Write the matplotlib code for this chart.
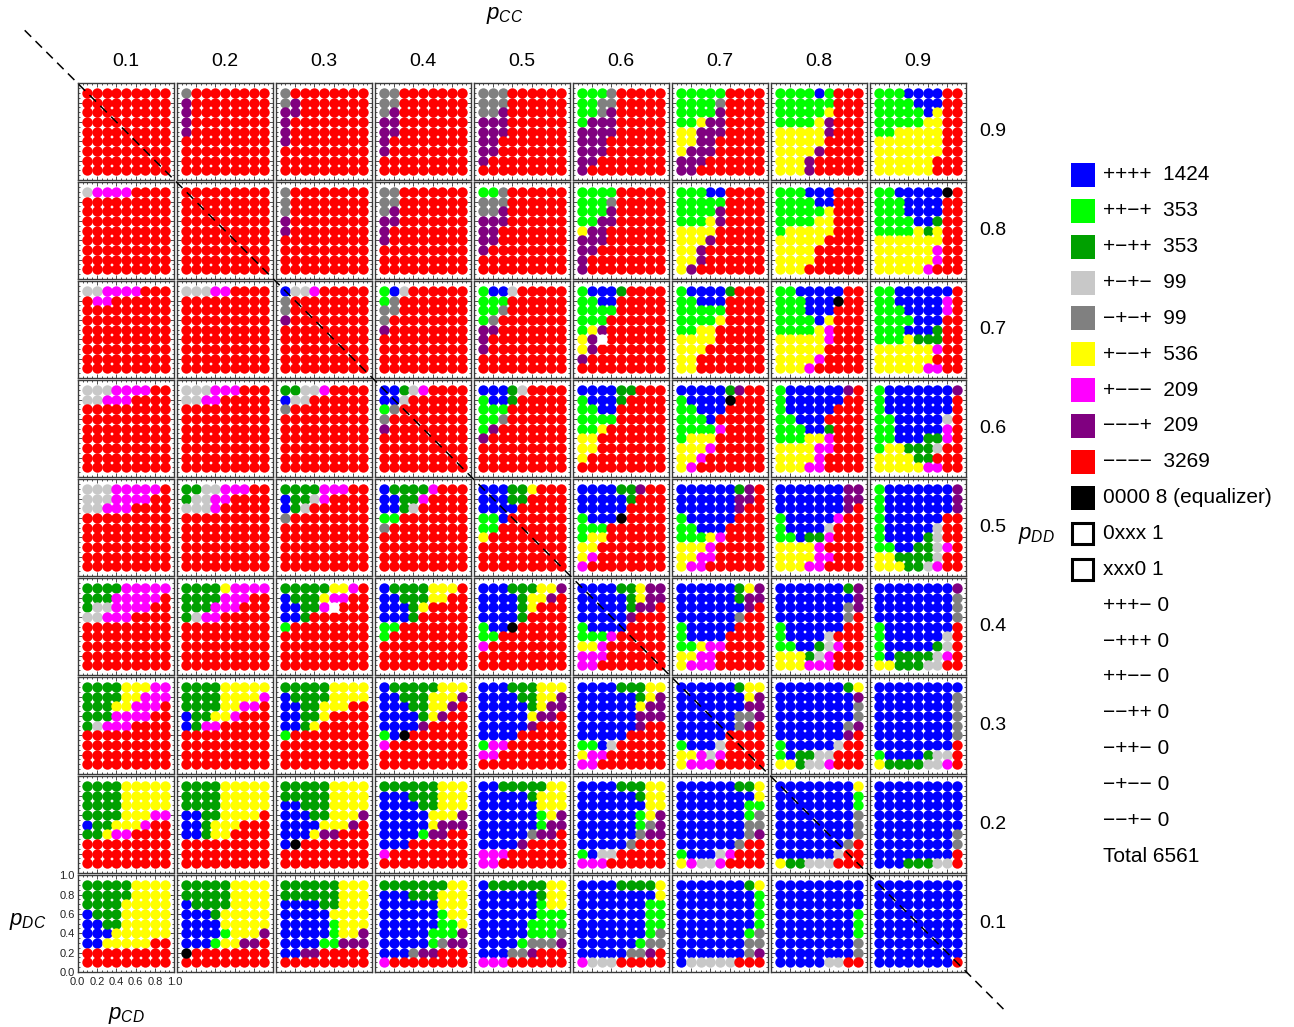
import matplotlib
matplotlib.use("Agg")
import matplotlib.pyplot as plt
from matplotlib.lines import Line2D
from matplotlib.patches import Rectangle
from matplotlib.ticker import MultipleLocator

plt.rcParams['font.family'] = ['Liberation Sans', 'DejaVu Sans']
plt.rcParams['mathtext.fontset'] = 'custom'
plt.rcParams['mathtext.it'] = 'Liberation Sans:italic'
plt.rcParams['mathtext.rm'] = 'Liberation Sans'

# grid values of p (same for p_CD / p_DC inside a panel and p_CC / p_DD between panels)
p_values = [0.1, 0.2, 0.3, 0.4, 0.5, 0.6, 0.7, 0.8, 0.9]
p_labels = ['0.1', '0.2', '0.3', '0.4', '0.5', '0.6', '0.7', '0.8', '0.9']

# sign pattern of each strategy, one panel per p_DD (0.9 at top -> 0.1 at bottom);
# each panel = 9 rows (p_DC 0.9 -> 0.1) of 9 chars (p_CD 0.1 -> 0.9)
# B ++++  L ++-+  G +-++  S +-+-  D -+-+  Y +--+  M +---  P ---+  R ----  K 0000  W 0xxx/xxx0
col_01 = [
    "RRRRRRRRR RRRRRRRRR RRRRRRRRR RRRRRRRRR RRRRRRRRR RRRRRRRRR RRRRRRRRR RRRRRRRRR RRRRRRRRR",
    "SMMMMRRRR RRRRRRRRR RRRRRRRRR RRRRRRRRR RRRRRRRRR RRRRRRRRR RRRRRRRRR RRRRRRRRR RRRRRRRRR",
    "SSMMMMRRR RMMRRRRRR RRRRRRRRR RRRRRRRRR RRRRRRRRR RRRRRRRRR RRRRRRRRR RRRRRRRRR RRRRRRRRR",
    "SSSMMMMRR SSMMMRRRR RRRRRRRRR RRRRRRRRR RRRRRRRRR RRRRRRRRR RRRRRRRRR RRRRRRRRR RRRRRRRRR",
    "SSSMMMMMR SSSMMMMRR SSMMMRRRR RRRRRRRRR RRRRRRRRR RRRRRRRRR RRRRRRRRR RRRRRRRRR RRRRRRRRR",
    "GGGGMMMMM GGGMMMMMR GSSMMMMRR SSMMMRRRR RRRRRRRRR RRRRRRRRR RRRRRRRRR RRRRRRRRR RRRRRRRRR",
    "GGGGYYYMM GGGGYYMMM GGGYYMMMR GGGMMMMRR GSMMMRRRR RRRRRRRRR RRRRRRRRR RRRRRRRRR RRRRRRRRR",
    "GGGGYYYYY GGGGYYYYY GGGGYYYYY GGGGYYYMM BGGYYYMRR GGYMMRRRR RRRRRRRRR RRRRRRRRR RRRRRRRRR",
    "GGGGGYYYY GGGGGYYYY GGGGYYYYY BGGGYYYYY BBGGYYYYY BBBYYYYYY BBYYYYYRR RRRRRRRRR RRRRRRRRR",
]
col_02 = [
    "DRRRRRRRR PRRRRRRRR PRRRRRRRR PRRRRRRRR PRRRRRRRR RRRRRRRRR RRRRRRRRR RRRRRRRRR RRRRRRRRR",
    "RRRRRRRRR RRRRRRRRR RRRRRRRRR RRRRRRRRR RRRRRRRRR RRRRRRRRR RRRRRRRRR RRRRRRRRR RRRRRRRRR",
    "SSSMMRRRR RRRRRRRRR RRRRRRRRR RRRRRRRRR RRRRRRRRR RRRRRRRRR RRRRRRRRR RRRRRRRRR RRRRRRRRR",
    "SSSMMMRRR SSMMRRRRR RRRRRRRRR RRRRRRRRR RRRRRRRRR RRRRRRRRR RRRRRRRRR RRRRRRRRR RRRRRRRRR",
    "GGSSMMMRR GSSMMRRRR SSSMRRRRR RRRRRRRRR RRRRRRRRR RRRRRRRRR RRRRRRRRR RRRRRRRRR RRRRRRRRR",
    "GGGGYMMMM GGGGMMMRR GGGMMMRRR GSMMRRRRR RRRRRRRRR RRRRRRRRR RRRRRRRRR RRRRRRRRR RRRRRRRRR",
    "GGGGYYYYY GGGGYYYYM GGGGYYMMR BGGYYMRRR BGMMRRRRR RRRRRRRRR RRRRRRRRR RRRRRRRRR RRRRRRRRR",
    "GGGGYYYYY GGGGYYYYY GGGGYYYYY BBGGYYYYR BBGYYYRRR BBGYYRRRR RRRRRRRRR RRRRRRRRR RRRRRRRRR",
    "GGGGGYYYY GGGGGYYYY BGGGGYYYY BBBGYYYYY BBBBYYYYY BBBBLYYYP BBBLYYPPR KRRRRRRRR RRRRRRRRR",
]
col_03 = [
    "DRRRRRRRR DPRRRRRRR PPRRRRRRR PRRRRRRRR PRRRRRRRR PRRRRRRRR RRRRRRRRR RRRRRRRRR RRRRRRRRR",
    "DRRRRRRRR DRRRRRRRR DRRRRRRRR PRRRRRRRR PRRRRRRRR RRRRRRRRR RRRRRRRRR RRRRRRRRR RRRRRRRRR",
    "BSSMRRRRR DRRRRRRRR DRRRRRRRR PRRRRRRRR RRRRRRRRR RRRRRRRRR RRRRRRRRR RRRRRRRRR RRRRRRRRR",
    "GGSSMRRRR BSSRRRRRR DRRRRRRRR RRRRRRRRR RRRRRRRRR RRRRRRRRR RRRRRRRRR RRRRRRRRR RRRRRRRRR",
    "GGGGMMMRR BGGSMRRRR BGSRRRRRR DRRRRRRRR RRRRRRRRR RRRRRRRRR RRRRRRRRR RRRRRRRRR RRRRRRRRR",
    "GGGGGYYMR BGGGYMMRR BBGGMWRRR BBGRRRRRR LRRRRRRRR RRRRRRRRR RRRRRRRRR RRRRRRRRR RRRRRRRRR",
    "GGGGGYYYY BGGGGYYYY BBGGYYYRR BBGGYRRRR BBGYRRRRR LRRRRRRRR RRRRRRRRR RRRRRRRRR RRRRRRRRR",
    "GGGGGYYYY GGGGGYYYY BBGGGYYYY BBBGGYYYP BBBBYYYPR BBBYPPRRR BKRRRRRRR RRRRRRRRR RRRRRRRRR",
    "GGGGGGYYY GGGGGGYYY BBBBGGYYY BBBBBYYYY BBBBBLYYY BBBBBLYYP BBBBLLPPP BBPPRRRRR RRRRRRRRR",
]
col_04 = [
    "DDRRRRRRR DDRRRRRRR DPRRRRRRR PPRRRRRRR PPRRRRRRR PRRRRRRRR PRRRRRRRR RRRRRRRRR RRRRRRRRR",
    "DDRRRRRRR DDRRRRRRR DPRRRRRRR PPRRRRRRR PRRRRRRRR PRRRRRRRR RRRRRRRRR RRRRRRRRR RRRRRRRRR",
    "LBSRRRRRR LDRRRRRRR DDRRRRRRR DRRRRRRRR PRRRRRRRR RRRRRRRRR RRRRRRRRR RRRRRRRRR RRRRRRRRR",
    "BBGSMRRRR BBSRRRRRR LDRRRRRRR DRRRRRRRR PRRRRRRRR RRRRRRRRR RRRRRRRRR RRRRRRRRR RRRRRRRRR",
    "BGGGGMRRR BBGGMRRRR BBGSRRRRR LLRRRRRRR DRRRRRRRR RRRRRRRRR RRRRRRRRR RRRRRRRRR RRRRRRRRR",
    "BGGGGYYYR BBGGGYYRR BBBGYRRRR BBBGRRRRR LLRRRRRRR LRRRRRRRR RRRRRRRRR RRRRRRRRR RRRRRRRRR",
    "BGGGGGYYY BBGGGYYYP BBBGGYYPR BBBBGYPRR BBBBPRRRR LBKRRRRRR MRRRRRRRR RRRRRRRRR RRRRRRRRR",
    "GGGGGGYYY BBBGGGYYY BBBBGGYYY BBBBBYYYP BBBBBYPPP BBBBLPPRR BBBRRRRRR MRRRRRRRR RRRRRRRRR",
    "GGGGGGGYY BBBGGGYYY BBBBBBYYY BBBBBBLYY BBBBBBLLY BBBBBLLLP BBBBBLDPP BBBDPPRRR MRRRRRRRR",
]
col_05 = [
    "DDDRRRRRR DDDRRRRRR DDPRRRRRR PPPRRRRRR PPPRRRRRR PPRRRRRRR PPRRRRRRR PRRRRRRRR RRRRRRRRR",
    "LLDRRRRRR DDDRRRRRR DDPRRRRRR PPPRRRRRR PPRRRRRRR PPRRRRRRR PRRRRRRRR RRRRRRRRR RRRRRRRRR",
    "LBBSRRRRR LLLRRRRRR LLDRRRRRR LDRRRRRRR PPRRRRRRR PRRRRRRRR PRRRRRRRR RRRRRRRRR RRRRRRRRR",
    "BBBGSRRRR LBBGRRRRR LLLRRRRRR LLDRRRRRR LPRRRRRRR PRRRRRRRR RRRRRRRRR RRRRRRRRR RRRRRRRRR",
    "BBBGGYRRR BBBGGRRRR BBBBRRRRR LLBRRRRRR LLRRRRRRR YRRRRRRRR RRRRRRRRR RRRRRRRRR RRRRRRRRR",
    "BBBGGGYYP BBBBGYYPR BBBBGYRRR BBBBGRRRR LBBKRRRRR LLRRRRRRR MRRRRRRRR RRRRRRRRR RRRRRRRRR",
    "BBBGGGYYY BBBBGGYYP BBBBBGYPP BBBBBYPPR BBBBBPRRR BBBBRRRRR LMMRRRRRR MMRRRRRRR RRRRRRRRR",
    "BBGGGGGYY BBBBBGYYY BBBBBBYYY BBBBBBLYP BBBBBBLPP BBBBBDPPR BBBBPRRRR MMMRRRRRR MMRRRRRRR",
    "BGGGGGGYY BBBBBBGYY BBBBBBLYY BBBBBBLLL BBBBBLLLL BBBBBLLLD BBBBLDDDP BBBDDPRRR MMMRRRRRR",
]
col_06 = [
    "LLLDRRRRR LLDDRRRRR LLDPRRRRR LPPPRRRRR PPPPRRRRR PPPRRRRRR PPPRRRRRR PPRRRRRRR PRRRRRRRR",
    "LLLLRRRRR LLLDRRRRR LLLPRRRRR LLPPRRRRR YPPRRRRRR PPPRRRRRR PPRRRRRRR PRRRRRRRR PRRRRRRRR",
    "LBBBGRRRR LLBBRRRRR LLLLRRRRR LLLRRRRRR LYPRRRRRR YPWRRRRRR YPRRRRRRR PRRRRRRRR RRRRRRRRR",
    "BBBBGGRRR LBBBGRRRR LLBBRRRRR LLLLRRRRR LLYRRRRRR YYRRRRRRR YYRRRRRRR YRRRRRRRR RRRRRRRRR",
    "BBBBGGPRR BBBBBGRRR BBBBBRRRR LBBBKRRRR LLLRRRRRR LYYRRRRRR YYRRRRRRR YMRRRRRRR MRRRRRRRR",
    "BBBBGGYPP BBBBBGYPP BBBBBGPPR BBBBBPRRR LBBBBRRRR LLLMRRRRR YYMRRRRRR MMMRRRRRR MMRRRRRRR",
    "BBBBGGGYY BBBBBBGYP BBBBBBYPP BBBBBBPPP BBBBBBPRR BBBBBRRRR LLBSRRRRR YMMRRRRRR MMRRRRRRR",
    "BBBBGGGYY BBBBBBGYY BBBBBBBYY BBBBBBLYP BBBBBBLDP BBBBBBDPP BBBBBDRRR LBSSRRRRR MMMRRRRRR",
    "BBBBGGGGY BBBBBBBBY BBBBBBBLL BBBBBBBLL BBBBBBBLL BBBBBBBLD BBBBBBLDD BBBBBDDPR MSSSRRRRR",
]
col_07 = [
    "LLLLLRRRR LLLLDRRRR LLLLPRRRR LLYPPRRRR YYPPPRRRR YYPPRRRRR YPPPRRRRR PPPRRRRRR PPRRRRRRR",
    "LLLBBRRRR LLLLLRRRR LLLLPRRRR LLLYPRRRR YYYYRRRRR YYYPRRRRR YYPRRRRRR YYPRRRRRR YPRRRRRRR",
    "LBBBBGRRR LLBBBRRRR LLLLLRRRR LLLLYRRRR LLYYRRRRR YYYYRRRRR YYYRRRRRR YYRRRRRRR YYRRRRRRR",
    "BBBBBGPRR LBBBBKRRR LLBBBRRRR LLLBRRRRR LLLLMRRRR LYYYRRRRR YYYMRRRRR YYMRRRRRR YMRRRRRRR",
    "BBBBBBGPR BBBBBBPPR BBBBBBPRR LBBBBBRRR LLBBBRRRR LLLYMRRRR YYYMRRRRR YYMMRRRRR YMMRRRRRR",
    "BBBBBBGYP BBBBBBGPP BBBBBBBPR BBBBBBDRR LBBBBBRRR LBBBBRRRR LLYMMRRRR YYMMRRRRR YMMMRRRRR",
    "BBBBBBGYY BBBBBBBYP BBBBBBBPP BBBBBBDDP BBBBBBDPR BBBBBRRRR LBBBSRRRR YYMSMRRRR YMMMRRRRR",
    "BBBBBBGGY BBBBBBBBY BBBBBBBLL BBBBBBBLD BBBBBBBDD BBBBBBBDP BBBBBBDRR LBBBSMRRR YMSSMRRRR",
    "BBBBBBBGY BBBBBBBBL BBBBBBBBL BBBBBBBBL BBBBBBBBL BBBBBBBLD BBBBBBBDD BBBBBBBDP BSSSSSRRR",
]
col_08 = [
    "LLLLBLRRR LLLLLLRRR LLLLLYRRR LLLLYPRRR YYYYYPRRR YYYYYRRRR YYYYPRRRR YYYPRRRRR YYYPRRRRR",
    "LLLBBBRRR LLLLBBRRR LLLLLYRRR LLLLYYRRR LYYYYYRRR YYYYYRRRR YYYYRRRRR YYYYRRRRR YYYRRRRRR",
    "LLBBBBBRR LLLBBBKRR LLLBBBRRR LLLLBYRRR LLLLYMRRR YYYYYMRRR YYYYYRRRR YYYYMRRRR YYYMRRRRR",
    "LBBBBBBPR LBBBBBBRR LBBBBBRRR LLBBBRRRR LLLBBGRRR LLLYYMRRR YYYYMMRRR YYYYMRRRR YYYMMRRRR",
    "BBBBBBBPP BBBBBBBPP BBBBBBBPR LBBBBBMRR LBBBBSRRR LLBGGMRRR YYYYMRRRR YYYYMMRRR YYYMMRRRR",
    "BBBBBBBGP BBBBBBBBP BBBBBBBDP BBBBBBBDR LBBBBBBRR LBBBBSRRR LLBBGSMRR YYYGSMRRR YYYMMMRRR",
    "BBBBBBBGY BBBBBBBBP BBBBBBBBD BBBBBBBBD BBBBBBBDP BBBBBBBPR LBBBBBSRR LBGGSSRRR YYGSSMRRR",
    "BBBBBBBBY BBBBBBBBL BBBBBBBBL BBBBBBBBD BBBBBBBBD BBBBBBBBD BBBBBBBDR BBBBBBSRR YGGSSSRRR",
    "BBBBBBBBB BBBBBBBBB BBBBBBBBB BBBBBBBBL BBBBBBBBL BBBBBBBBL BBBBBBBBD BBBBBBBBD BBBBBSSRR",
]
col_09 = [
    "LLLBBBBRR LLLLBBBRR LLLLLBYRR LLLLLYYRR LLYYYYYRR YYYYYYYRR YYYYYYYRR YYYYYYRRR YYYYYYRRR",
    "LLBBBBBKR LLLBBBBRR LLLBBBBRR LLLLBBGRR LLLLYGYRR YYYYYYYRR YYYYYYMRR YYYYYYMRR YYYYYMRRR",
    "LLBBBBBBR LLBBBBBMR LLLBBBBMR LLLLBBBRR LLLBBBGRR LLLYGGGRR YYYYYYMRR YYYYYYRRR YYYYYMMRR",
    "LBBBBBBBP LBBBBBBBR LBBBBBBBR LLBBBBBSR LLBBBBBMR LLBBBGGMR LYYGGGSRR YYYYGGRRR YYYYYMMRR",
    "LBBBBBBBP LBBBBBBBP LBBBBBBBP LBBBBBBRR LBBBBBSRR LBBBBGSRR LLBBGGSMR YYGGGGSRR YYYGGSMRR",
    "BBBBBBBBP BBBBBBBBD BBBBBBBBD BBBBBBBBD LBBBBBBBR LBBBBBBSR LBBBBBGSR LBGGGGSMR YYGGGSSRR",
    "BBBBBBBBB BBBBBBBBD BBBBBBBBD BBBBBBBBD BBBBBBBBD BBBBBBBBD BBBBBBBBR LBBBBGSSR YGGGGSSMR",
    "BBBBBBBBB BBBBBBBBB BBBBBBBBB BBBBBBBBB BBBBBBBBB BBBBBBBBD BBBBBBBBD BBBBBBBBR BBBGGGSSR",
    "BBBBBBBBB BBBBBBBBB BBBBBBBBB BBBBBBBBB BBBBBBBBB BBBBBBBBB BBBBBBBBB BBBBBBBBB BBBBBBBBR",
]
columns = [col_01, col_02, col_03, col_04, col_05, col_06, col_07, col_08, col_09]

class_colors = {
    'B': '#0000FF', 'L': '#00FF00', 'G': '#00A000', 'S': '#C8C8C8', 'D': '#808080',
    'Y': '#FFFF00', 'M': '#FF00FF', 'P': '#800080', 'R': '#FF0000', 'K': '#000000',
    'W': '#FFFFFF',
}

legend_codes = ['B', 'L', 'G', 'S', 'D', 'Y', 'M', 'P', 'R', 'K', 'W', 'W']
legend_labels = ['++++', '++\u2212+', '+\u2212++', '+\u2212+\u2212', '\u2212+\u2212+',
                 '+\u2212\u2212+', '+\u2212\u2212\u2212', '\u2212\u2212\u2212+',
                 '\u2212\u2212\u2212\u2212', '0000', '0xxx', 'xxx0',
                 '+++\u2212', '\u2212+++', '++\u2212\u2212', '\u2212\u2212++',
                 '\u2212++\u2212', '\u2212+\u2212\u2212', '\u2212\u2212+\u2212']
legend_counts = [1424, 353, 353, 99, 99, 536, 209, 209, 3269, 8, 1, 1, 0, 0, 0, 0, 0, 0, 0]
total_count = 6561

W, H = 1294, 1027


def fx(x):
    return x / W


def fy(y):
    return 1 - y / H


fig = plt.figure(figsize=(W / 100, H / 100), dpi=100)

x0, y0 = 77.7, 83.3     # top-left corner of the panel grid (px)
step, size = 99.0, 96.6

for i, panels in enumerate(columns):
    for j, panel in enumerate(panels):
        left = x0 + step * i
        top = y0 + step * j
        ax = fig.add_axes([fx(left), fy(top + size), size / W, size / H])
        rows = panel.split()
        for code, color in class_colors.items():
            xs, ys = [], []
            for r, row in enumerate(rows):
                for c, ch in enumerate(row):
                    if ch == code:
                        xs.append(p_values[c])
                        ys.append(p_values[8 - r])
            if xs:
                ax.scatter(xs, ys, s=56, c=color, linewidths=0, zorder=2)
        ax.set_xlim(0, 1)
        ax.set_ylim(0, 1)
        ax.xaxis.set_major_locator(MultipleLocator(0.2))
        ax.yaxis.set_major_locator(MultipleLocator(0.2))
        ax.xaxis.set_minor_locator(MultipleLocator(0.05))
        ax.yaxis.set_minor_locator(MultipleLocator(0.05))
        ax.tick_params(which='both', direction='in', top=True, right=True,
                       width=0.6, colors='#333333', labelsize=8)
        ax.tick_params(which='major', length=2.6)
        ax.tick_params(which='minor', length=1.4)
        ax.tick_params(axis='x', pad=3.5)
        ax.tick_params(axis='y', pad=2)
        for sp in ax.spines.values():
            sp.set_linewidth(1.0)
            sp.set_color('#3a3a3a')
        if i == 0 and j == 8:
            ax.set_xticks([0.0, 0.2, 0.4, 0.6, 0.8, 1.0])
            ax.set_yticks([0.0, 0.2, 0.4, 0.6, 0.8, 1.0])
            ax.set_xticklabels(['0.0', '0.2', '0.4', '0.6', '0.8', '1.0'])
            ax.set_yticklabels(['0.0', '0.2', '0.4', '0.6', '0.8', '1.0'])
            ax.tick_params(labelcolor='#222222')
        else:
            ax.tick_params(labelbottom=False, labelleft=False)

# column / row headers
for i, lab in enumerate(p_labels):
    fig.text(fx(x0 + step * i + size / 2), fy(62), lab, fontsize=14,
             ha='center', va='center')
for j, lab in enumerate(p_labels[::-1]):
    fig.text(fx(993), fy(y0 + step * j + size / 2), lab, fontsize=14,
             ha='center', va='center')

fig.text(fx(505), fy(16), r'$p_{CC}$', fontsize=16, ha='center', va='center')
fig.text(fx(1036), fy(535), r'$p_{DD}$', fontsize=16, ha='center', va='center')
fig.text(fx(28), fy(921), r'$p_{DC}$', fontsize=16, ha='center', va='center')
fig.text(fx(126), fy(1015), r'$p_{CD}$', fontsize=16, ha='center', va='center')

# dashed diagonal p_CC + p_DD = 1 across the whole grid
grid_end = x0 + step * 8 + size
ext0, ext1 = 53, 39
diag = Line2D([fx(x0 - ext0), fx(grid_end + ext1)],
              [fy(y0 - ext0), fy(y0 + step * 8 + size + ext1)],
              transform=fig.transFigure, color='black', lw=1.1,
              linestyle=(0, (6, 4)), zorder=10)
fig.add_artist(diag)

# legend
leg_y0, leg_dy = 175, 35.85
for k, lab in enumerate(legend_labels):
    yc = leg_y0 + leg_dy * k
    if k < len(legend_codes):
        code = legend_codes[k]
        if code == 'W':
            sq = Rectangle((fx(1072), fy(yc + 10.5)), 21 / W, 21 / H,
                           transform=fig.transFigure, facecolor='white',
                           edgecolor='black', linewidth=2.2)
        else:
            sq = Rectangle((fx(1071), fy(yc + 12)), 24 / W, 24 / H,
                           transform=fig.transFigure, facecolor=class_colors[code],
                           edgecolor='none')
        fig.add_artist(sq)
    if k < 9:
        txt = f"{lab}  {legend_counts[k]}"
    elif k == 9:
        txt = f"{lab} {legend_counts[k]} (equalizer)"
    else:
        txt = f"{lab} {legend_counts[k]}"
    fig.text(fx(1103), fy(yc), txt, fontsize=15, ha='left', va='center')
fig.text(fx(1103), fy(leg_y0 + leg_dy * len(legend_labels)), f"Total {total_count}",
         fontsize=15, ha='left', va='center')

fig.savefig('out.png', dpi=100)
